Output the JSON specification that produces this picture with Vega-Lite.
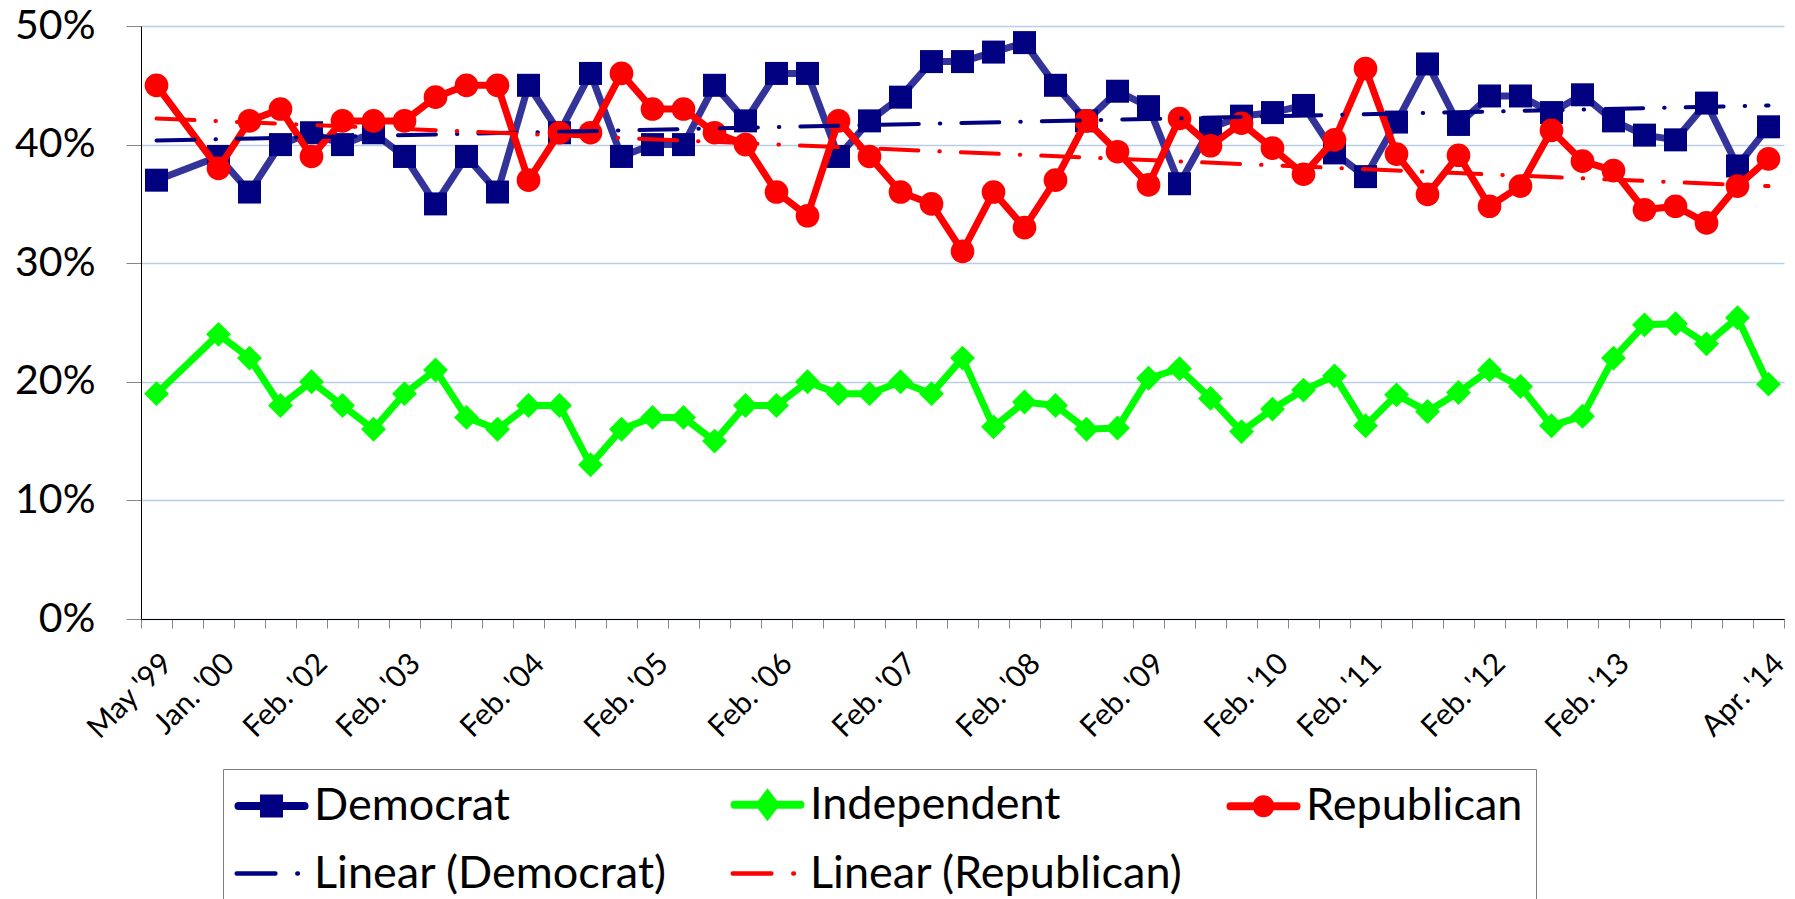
{
  "$schema": "https://vega.github.io/schema/vega-lite/v6.json",
  "width": 1643,
  "height": 593,
  "autosize": {"type": "none"},
  "padding": {"left": 141, "top": 26, "right": 11, "bottom": 280},
  "background": "white",
  "config": {"view": {"stroke": null}, "font": "Lato"},
  "datasets": {
    "polls": [
      {"k":0,"party":"Democrat","v":37},{"k":0,"party":"Independent","v":19},{"k":0,"party":"Republican","v":45},
      {"k":2,"party":"Democrat","v":39},{"k":2,"party":"Independent","v":24},{"k":2,"party":"Republican","v":38},
      {"k":3,"party":"Democrat","v":36},{"k":3,"party":"Independent","v":22},{"k":3,"party":"Republican","v":42},
      {"k":4,"party":"Democrat","v":40},{"k":4,"party":"Independent","v":18},{"k":4,"party":"Republican","v":43},
      {"k":5,"party":"Democrat","v":41},{"k":5,"party":"Independent","v":20},{"k":5,"party":"Republican","v":39},
      {"k":6,"party":"Democrat","v":40},{"k":6,"party":"Independent","v":18},{"k":6,"party":"Republican","v":42},
      {"k":7,"party":"Democrat","v":41},{"k":7,"party":"Independent","v":16},{"k":7,"party":"Republican","v":42},
      {"k":8,"party":"Democrat","v":39},{"k":8,"party":"Independent","v":19},{"k":8,"party":"Republican","v":42},
      {"k":9,"party":"Democrat","v":35},{"k":9,"party":"Independent","v":21},{"k":9,"party":"Republican","v":44},
      {"k":10,"party":"Democrat","v":39},{"k":10,"party":"Independent","v":17},{"k":10,"party":"Republican","v":45},
      {"k":11,"party":"Democrat","v":36},{"k":11,"party":"Independent","v":16},{"k":11,"party":"Republican","v":45},
      {"k":12,"party":"Democrat","v":45},{"k":12,"party":"Independent","v":18},{"k":12,"party":"Republican","v":37},
      {"k":13,"party":"Democrat","v":41},{"k":13,"party":"Independent","v":18},{"k":13,"party":"Republican","v":41},
      {"k":14,"party":"Democrat","v":46},{"k":14,"party":"Independent","v":13},{"k":14,"party":"Republican","v":41},
      {"k":15,"party":"Democrat","v":39},{"k":15,"party":"Independent","v":16},{"k":15,"party":"Republican","v":46},
      {"k":16,"party":"Democrat","v":40},{"k":16,"party":"Independent","v":17},{"k":16,"party":"Republican","v":43},
      {"k":17,"party":"Democrat","v":40},{"k":17,"party":"Independent","v":17},{"k":17,"party":"Republican","v":43},
      {"k":18,"party":"Democrat","v":45},{"k":18,"party":"Independent","v":15},{"k":18,"party":"Republican","v":41},
      {"k":19,"party":"Democrat","v":42},{"k":19,"party":"Independent","v":18},{"k":19,"party":"Republican","v":40},
      {"k":20,"party":"Democrat","v":46},{"k":20,"party":"Independent","v":18},{"k":20,"party":"Republican","v":36},
      {"k":21,"party":"Democrat","v":46},{"k":21,"party":"Independent","v":20},{"k":21,"party":"Republican","v":34},
      {"k":22,"party":"Democrat","v":39},{"k":22,"party":"Independent","v":19},{"k":22,"party":"Republican","v":42},
      {"k":23,"party":"Democrat","v":42},{"k":23,"party":"Independent","v":19},{"k":23,"party":"Republican","v":39},
      {"k":24,"party":"Democrat","v":44},{"k":24,"party":"Independent","v":20},{"k":24,"party":"Republican","v":36},
      {"k":25,"party":"Democrat","v":47},{"k":25,"party":"Independent","v":19},{"k":25,"party":"Republican","v":35},
      {"k":26,"party":"Democrat","v":47},{"k":26,"party":"Independent","v":22},{"k":26,"party":"Republican","v":31},
      {"k":27,"party":"Democrat","v":47.8},{"k":27,"party":"Independent","v":16.2},{"k":27,"party":"Republican","v":36},
      {"k":28,"party":"Democrat","v":48.6},{"k":28,"party":"Independent","v":18.3},{"k":28,"party":"Republican","v":33},
      {"k":29,"party":"Democrat","v":45},{"k":29,"party":"Independent","v":18},{"k":29,"party":"Republican","v":37},
      {"k":30,"party":"Democrat","v":42},{"k":30,"party":"Independent","v":16},{"k":30,"party":"Republican","v":42},
      {"k":31,"party":"Democrat","v":44.5},{"k":31,"party":"Independent","v":16.1},{"k":31,"party":"Republican","v":39.4},
      {"k":32,"party":"Democrat","v":43.2},{"k":32,"party":"Independent","v":20.3},{"k":32,"party":"Republican","v":36.6},
      {"k":33,"party":"Democrat","v":36.7},{"k":33,"party":"Independent","v":21.1},{"k":33,"party":"Republican","v":42.2},
      {"k":34,"party":"Democrat","v":41.4},{"k":34,"party":"Independent","v":18.6},{"k":34,"party":"Republican","v":39.9},
      {"k":35,"party":"Democrat","v":42.4},{"k":35,"party":"Independent","v":15.8},{"k":35,"party":"Republican","v":41.8},
      {"k":36,"party":"Democrat","v":42.7},{"k":36,"party":"Independent","v":17.7},{"k":36,"party":"Republican","v":39.7},
      {"k":37,"party":"Democrat","v":43.3},{"k":37,"party":"Independent","v":19.3},{"k":37,"party":"Republican","v":37.5},
      {"k":38,"party":"Democrat","v":39.3},{"k":38,"party":"Independent","v":20.5},{"k":38,"party":"Republican","v":40.4},
      {"k":39,"party":"Democrat","v":37.3},{"k":39,"party":"Independent","v":16.3},{"k":39,"party":"Republican","v":46.4},
      {"k":40,"party":"Democrat","v":41.9},{"k":40,"party":"Independent","v":18.9},{"k":40,"party":"Republican","v":39.2},
      {"k":41,"party":"Democrat","v":46.8},{"k":41,"party":"Independent","v":17.5},{"k":41,"party":"Republican","v":35.8},
      {"k":42,"party":"Democrat","v":41.7},{"k":42,"party":"Independent","v":19.1},{"k":42,"party":"Republican","v":39.1},
      {"k":43,"party":"Democrat","v":44.1},{"k":43,"party":"Independent","v":21.0},{"k":43,"party":"Republican","v":34.8},
      {"k":44,"party":"Democrat","v":44.1},{"k":44,"party":"Independent","v":19.6},{"k":44,"party":"Republican","v":36.5},
      {"k":45,"party":"Democrat","v":42.7},{"k":45,"party":"Independent","v":16.3},{"k":45,"party":"Republican","v":41.2},
      {"k":46,"party":"Democrat","v":44.2},{"k":46,"party":"Independent","v":17.1},{"k":46,"party":"Republican","v":38.6},
      {"k":47,"party":"Democrat","v":42.0},{"k":47,"party":"Independent","v":22.0},{"k":47,"party":"Republican","v":37.8},
      {"k":48,"party":"Democrat","v":40.8},{"k":48,"party":"Independent","v":24.8},{"k":48,"party":"Republican","v":34.5},
      {"k":49,"party":"Democrat","v":40.4},{"k":49,"party":"Independent","v":24.9},{"k":49,"party":"Republican","v":34.8},
      {"k":50,"party":"Democrat","v":43.5},{"k":50,"party":"Independent","v":23.2},{"k":50,"party":"Republican","v":33.4},
      {"k":51,"party":"Democrat","v":38.2},{"k":51,"party":"Independent","v":25.4},{"k":51,"party":"Republican","v":36.5},
      {"k":52,"party":"Democrat","v":41.5},{"k":52,"party":"Independent","v":19.8},{"k":52,"party":"Republican","v":38.8}
    ],
    "trend": [
      {"k":0,"series":"Linear (Democrat)","v":40.34},
      {"k":52,"series":"Linear (Democrat)","v":43.3},
      {"k":0,"series":"Linear (Republican)","v":42.2},
      {"k":52,"series":"Linear (Republican)","v":36.5}
    ]
  },
  "encoding": {
    "x": {
      "field": "k",
      "type": "quantitative",
      "scale": {"domain": [-0.5, 52.5], "nice": false, "zero": false},
      "axis": {
        "title": null,
        "grid": false,
        "values": [-0.5,0.5,1.5,2.5,3.5,4.5,5.5,6.5,7.5,8.5,9.5,10.5,11.5,12.5,13.5,14.5,15.5,16.5,17.5,18.5,19.5,20.5,21.5,22.5,23.5,24.5,25.5,26.5,27.5,28.5,29.5,30.5,31.5,32.5,33.5,34.5,35.5,36.5,37.5,38.5,39.5,40.5,41.5,42.5,43.5,44.5,45.5,46.5,47.5,48.5,49.5,50.5,51.5,52.5,0,2,5,8,12,16,20,24,28,32,36,39,43,47,52],
        "labelExpr": "indexof([0,2,5,8,12,16,20,24,28,32,36,39,43,47,52], datum.value) >= 0 ? [\"May '99\", \"Jan. '00\", \"Feb. '02\", \"Feb. '03\", \"Feb. '04\", \"Feb. '05\", \"Feb. '06\", \"Feb. '07\", \"Feb. '08\", \"Feb. '09\", \"Feb. '10\", \"Feb. '11\", \"Feb. '12\", \"Feb. '13\", \"Apr. '14\"][indexof([0,2,5,8,12,16,20,24,28,32,36,39,43,47,52], datum.value)] : ''",
        "tickOpacity": {"condition": {"test": "datum.value % 1 !== 0", "value": 1}, "value": 0},
        "tickSize": 9,
        "tickColor": "#868686",
        "tickWidth": 1,
        "domainColor": "black",
        "domainWidth": 1,
        "labelAngle": -45,
        "labelAlign": "right",
        "labelBaseline": "top",
        "labelPadding": 20,
        "labelFont": "Lato",
        "labelFontSize": 30,
        "labelColor": "black",
        "labelOverlap": false,
        "labelBound": false,
        "labelFlush": false
      }
    },
    "y": {
      "field": "v",
      "type": "quantitative",
      "scale": {"domain": [0, 50], "nice": false},
      "axis": {
        "title": null,
        "values": [0, 10, 20, 30, 40, 50],
        "labelExpr": "datum.value + '%'",
        "grid": true,
        "gridColor": "#B9CDE5",
        "gridWidth": 1.5,
        "tickSize": 15,
        "tickColor": "#868686",
        "domainColor": "black",
        "domainWidth": 1,
        "labelFont": "Lato",
        "labelFontSize": 41,
        "labelColor": "black",
        "labelPadding": 31,
        "labelFlush": false,
        "labelBound": false
      }
    }
  },
  "layer": [
    {
      "data": {"name": "polls"},
      "transform": [{"filter": "datum.party === 'Democrat'"}],
      "mark": {"type": "line", "color": "#333399", "strokeWidth": 7, "strokeCap": "round", "strokeJoin": "round"}
    },
    {
      "data": {"name": "polls"},
      "transform": [{"filter": "datum.party === 'Democrat'"}],
      "mark": {"type": "point", "shape": "square", "filled": true, "color": "#000080", "size": 529, "opacity": 1}
    },
    {
      "data": {"name": "polls"},
      "transform": [{"filter": "datum.party === 'Independent'"}],
      "mark": {"type": "line", "color": "#00FF00", "strokeWidth": 7, "strokeCap": "round", "strokeJoin": "round"}
    },
    {
      "data": {"name": "polls"},
      "transform": [{"filter": "datum.party === 'Independent'"}],
      "mark": {"type": "point", "shape": "diamond", "filled": true, "color": "#00FF00", "size": 620, "opacity": 1}
    },
    {
      "data": {"name": "polls"},
      "transform": [{"filter": "datum.party === 'Republican'"}],
      "mark": {"type": "line", "color": "#FF0000", "strokeWidth": 7, "strokeCap": "round", "strokeJoin": "round"}
    },
    {
      "data": {"name": "polls"},
      "transform": [{"filter": "datum.party === 'Republican'"}],
      "mark": {"type": "point", "shape": "circle", "filled": true, "color": "#FF0000", "size": 560, "opacity": 1}
    },
    {
      "data": {"name": "trend"},
      "mark": {"type": "line", "strokeWidth": 4, "strokeDash": [38, 21, 0.5, 21], "strokeCap": "round"},
      "encoding": {
        "color": {
          "field": "series",
          "type": "nominal",
          "scale": {
            "domain": ["Democrat", "Linear (Democrat)", "Independent", "Linear (Republican)", "Republican"],
            "range": ["#000080", "#000080", "#00FF00", "#FF0000", "#FF0000"]
          },
          "legend": {
            "orient": "none",
            "legendX": 82,
            "legendY": 743,
            "title": null,
            "columns": 3,
            "gridAlign": "all",
            "columnPadding": 31,
            "rowPadding": 20,
            "padding": 13,
            "strokeColor": "#808080",
            "fillColor": "white",
            "symbolSize": 3600,
            "symbolOffset": 13,
            "labelOffset": 20,
            "labelFont": "Lato",
            "labelFontSize": 45,
            "labelColor": "black",
            "labelLimit": 900,
            "labelExpr": "datum.label === 'Republican' ? 'Republican             ' : datum.label",
            "symbolStrokeWidth": 8,
            "encode": {
              "symbols": {
                "update": {
                  "shape": {"signal": "datum.label === 'Democrat' ? 'M-1.1,0H1.1M-0.25,-0.25H0.25V0.25H-0.25Z' : datum.label === 'Independent' ? 'M-1.1,0H1.1M0,-0.33L0.25,0L0,0.33L-0.25,0Z' : datum.label === 'Republican' ? 'M-1.1,0H1.1M-0.23,0A0.23,0.23,0,1,0,0.23,0A0.23,0.23,0,1,0,-0.23,0Z' : 'M-1.16,0H0.13M0.86,0H0.88'"},
                  "fill": {"signal": "datum.label === 'Democrat' || datum.label === 'Linear (Democrat)' ? '#000080' : datum.label === 'Independent' ? '#00FF00' : '#FF0000'"},
                  "stroke": {"signal": "datum.label === 'Democrat' ? '#333399' : datum.label === 'Linear (Democrat)' ? '#000080' : datum.label === 'Independent' ? '#00FF00' : '#FF0000'"},
                  "strokeWidth": {"signal": "datum.label === 'Linear (Democrat)' || datum.label === 'Linear (Republican)' ? 4.5 : 8"},
                  "strokeCap": {"value": "round"}
                }
              }
            }
          }
        }
      }
    }
  ]
}
